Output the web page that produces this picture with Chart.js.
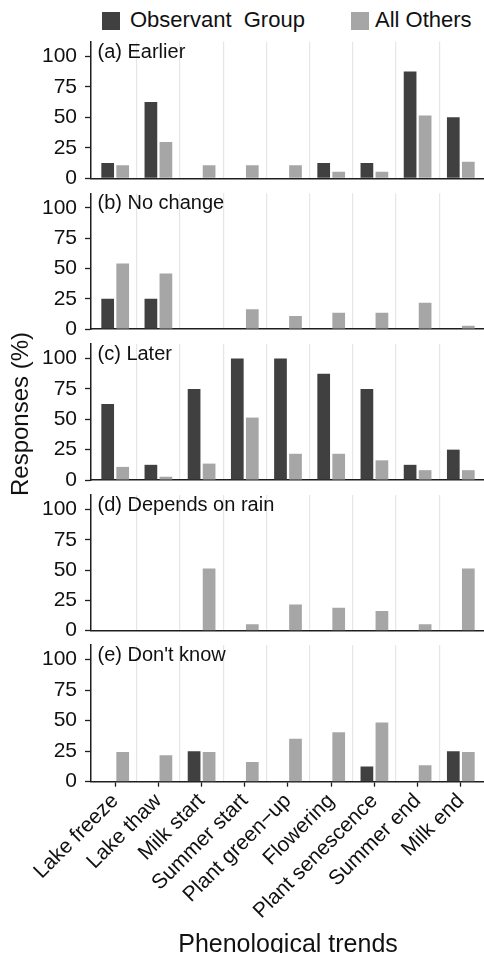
<!DOCTYPE html>
<html>
<head>
<meta charset="utf-8">
<script src="https://cdn.jsdelivr.net/npm/chart.js@4.4.0/dist/chart.umd.min.js"></script>
<style>
  html, body { margin: 0; padding: 0; background: #fff; overflow: hidden; }
  body { width: 484px; height: 953px; position: relative; font-family: "Liberation Sans", Arial, sans-serif; color: #111; }
  .wrap { position: absolute; left: 0; top: 0; width: 485px; height: 953px; }
  .key { position: absolute; top: 12px; width: 18px; height: 18px; }
  .lab { position: absolute; top: 9px; font-size: 22px; line-height: 22px; white-space: pre; }
  .ytitle { position: absolute; left: -80px; top: 402px; width: 200px; font-size: 24px; line-height: 24px; text-align: center; transform: rotate(-90deg); white-space: nowrap; }
  .xtitle { position: absolute; left: 91px; width: 394px; top: 931px; font-size: 25px; line-height: 25px; text-align: center; white-space: nowrap; }
</style>
</head>
<body>
<div class="key" style="left:102px; background:#404040;"></div>
<div class="lab" style="left:130px;">Observant  Group</div>
<div class="key" style="left:351px; background:#a6a6a6;"></div>
<div class="lab" style="left:375px;">All Others</div>

<div class="wrap"><canvas id="p0"></canvas></div>
<div class="wrap"><canvas id="p1"></canvas></div>
<div class="wrap"><canvas id="p2"></canvas></div>
<div class="wrap"><canvas id="p3"></canvas></div>
<div class="wrap"><canvas id="p4"></canvas></div>

<div class="ytitle">Responses (%)</div>
<div class="xtitle">Phenological trends</div>

<script>
const categories = ['Lake freeze', 'Lake thaw', 'Milk start', 'Summer start', 'Plant green\u2212up',
                    'Flowering', 'Plant senescence', 'Summer end', 'Milk end'];
const panelTitles = ['(a) Earlier', '(b) No change', '(c) Later', '(d) Depends on rain', "(e) Don't know"];
const yTicks = [0, 25, 50, 75, 100];

// Observant Group vs All Others, % of responses per panel
const observantEarlier  = [12.5, 62.5, 0, 0, 0, 12.5, 12.5, 87.5, 50];
const othersEarlier     = [10.8, 29.7, 10.8, 10.8, 10.8, 5.4, 5.4, 51.4, 13.5];
const observantNoChange = [25, 25, 0, 0, 0, 0, 0, 0, 0];
const othersNoChange    = [54.1, 45.9, 0, 16.2, 10.8, 13.5, 13.5, 21.6, 2.7];
const observantLater    = [62.5, 12.5, 75, 100, 100, 87.5, 75, 12.5, 25];
const othersLater       = [10.8, 2.7, 13.5, 51.4, 21.6, 21.6, 16.2, 8.1, 8.1];
const observantRain     = [0, 0, 0, 0, 0, 0, 0, 0, 0];
const othersRain        = [0, 0, 51.4, 5.4, 21.6, 18.9, 16.2, 5.4, 51.4];
const observantDontKnow = [0, 0, 25, 0, 0, 0, 12.5, 0, 25];
const othersDontKnow    = [24.3, 21.6, 24.3, 16.2, 35.1, 40.5, 48.6, 13.5, 24.3];

const observantSeries = [observantEarlier, observantNoChange, observantLater, observantRain, observantDontKnow];
const othersSeries = [othersEarlier, othersNoChange, othersLater, othersRain, othersDontKnow];

// panel boxes (px) in the 953px tall page
const panelTop = [41.7, 193.3, 344, 495, 645];
const panelBottom = [178.3, 329, 480, 630.7, 781.7];
const FONT = '"Liberation Sans", Arial, sans-serif';
const AXIS = '#1e1e1e';

const panelLabel = {
    id: 'panelLabel',
    afterDatasetsDraw(chart, args, opts) {
        const { ctx, chartArea } = chart;
        ctx.save();
        ctx.font = '20px ' + FONT;
        ctx.fillStyle = '#111';
        ctx.textBaseline = 'alphabetic';
        ctx.textAlign = 'left';
        ctx.fillText(opts.text, chartArea.left + 6.5, chartArea.top + 15.8);
        ctx.restore();
    }
};

function toPoints(values) {
    return values.map((v, i) => ({ x: i + 1, y: v }));
}

function makePanel(i) {
    const isLast = i === 4;
    const xHeight = isLast ? 953 - panelBottom[i] : 0;

    new Chart(document.getElementById('p' + i), {
        type: 'bar',
        data: {
            datasets: [
                {
                    label: 'Observant Group',
                    data: toPoints(observantSeries[i]),
                    backgroundColor: '#404040',
                    borderWidth: 0,
                    categoryPercentage: 0.695,
                    barPercentage: 0.847
                },
                {
                    label: 'All Others',
                    data: toPoints(othersSeries[i]),
                    backgroundColor: '#a6a6a6',
                    borderWidth: 0,
                    categoryPercentage: 0.695,
                    barPercentage: 0.847
                }
            ]
        },
        options: {
            responsive: true,
            maintainAspectRatio: false,
            animation: false,
            events: [],
            layout: {
                padding: { top: panelTop[i], bottom: 953 - panelBottom[i] - xHeight, left: 0, right: 0 }
            },
            scales: {
                x: {
                    type: 'linear',
                    position: 'bottom',
                    min: 0.44,
                    max: 9.56,
                    offset: false,
                    afterBuildTicks: (scale) => {
                        scale.ticks = categories.map((c, k) => ({ value: k + 1 }));
                    },
                    afterFit: (scale) => { scale.height = xHeight; },
                    ticks: {
                        display: isLast,
                        autoSkip: false,
                        minRotation: 45,
                        maxRotation: 45,
                        padding: 2,
                        color: '#111',
                        font: { family: FONT, size: 21 },
                        callback: (v) => categories[Math.round(v) - 1] || ''
                    },
                    grid: {
                        offset: false,
                        drawOnChartArea: false,
                        drawTicks: isLast,
                        tickLength: 5,
                        tickColor: AXIS,
                        tickWidth: 1.3
                    },
                    border: { display: true, color: AXIS, width: 1.5 }
                },
                xg: {
                    type: 'linear',
                    position: 'bottom',
                    min: 0.44,
                    max: 9.56,
                    offset: false,
                    afterBuildTicks: (scale) => {
                        scale.ticks = categories.slice(1).map((c, k) => ({ value: k + 1.5 }));
                    },
                    afterFit: (scale) => { scale.height = 0; },
                    ticks: { display: false },
                    grid: {
                        offset: false,
                        drawTicks: false,
                        color: '#e6e6e6',
                        lineWidth: 1.2
                    },
                    border: { display: false }
                },
                y: {
                    min: 0,
                    max: 112,
                    afterBuildTicks: (scale) => {
                        scale.ticks = yTicks.map(v => ({ value: v }));
                    },
                    afterFit: (scale) => { scale.width = 91; },
                    ticks: {
                        padding: 8,
                        color: '#111',
                        font: { family: FONT, size: 21 }
                    },
                    grid: {
                        drawOnChartArea: false,
                        drawTicks: true,
                        tickLength: 6,
                        tickColor: AXIS,
                        tickWidth: 1.3
                    },
                    border: { display: true, color: AXIS, width: 1.5 }
                }
            },
            plugins: {
                legend: { display: false },
                tooltip: { enabled: false },
                panelLabel: { text: panelTitles[i] }
            }
        },
        plugins: [panelLabel]
    });
}

for (let i = 0; i < 5; i++) {
    makePanel(i);
}
</script>
</body>
</html>
